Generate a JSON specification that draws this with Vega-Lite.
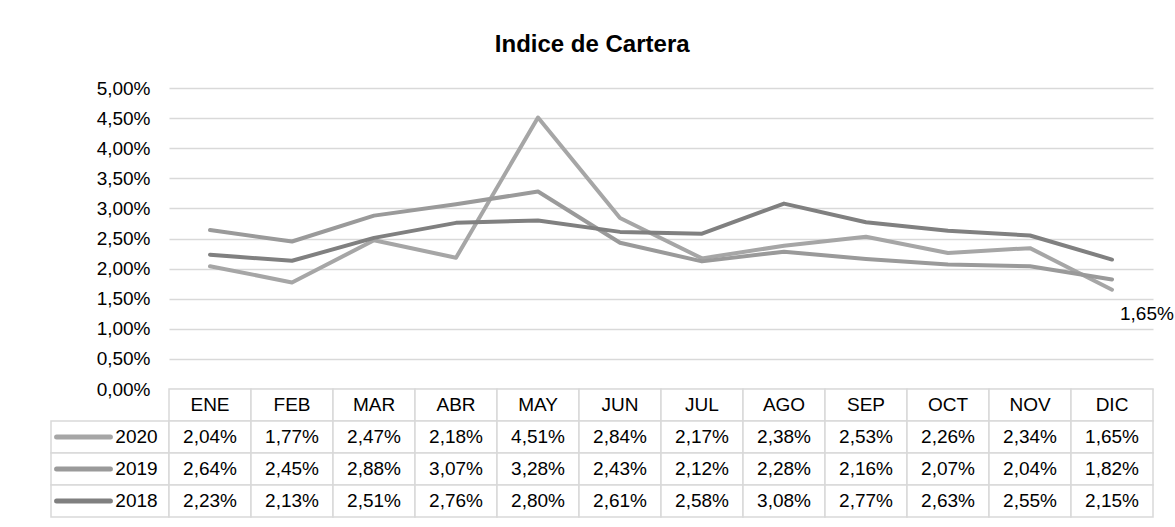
{
  "$schema": "https://vega.github.io/schema/vega-lite/v6.json",
  "padding": {"left": 46, "top": 33, "right": 3, "bottom": 3},
  "background": "white",
  "title": {"text": "Indice de Cartera", "fontSize": 24, "fontWeight": "bold", "font": "Liberation Sans", "color": "#000000", "anchor": "middle", "offset": 22, "dx": -18},
  "datasets": {
    "vals": [
      {"mes": "ENE", "serie": "2020", "valor": 0.0204},
      {"mes": "FEB", "serie": "2020", "valor": 0.0177},
      {"mes": "MAR", "serie": "2020", "valor": 0.0247},
      {"mes": "ABR", "serie": "2020", "valor": 0.0218},
      {"mes": "MAY", "serie": "2020", "valor": 0.0451},
      {"mes": "JUN", "serie": "2020", "valor": 0.0284},
      {"mes": "JUL", "serie": "2020", "valor": 0.0217},
      {"mes": "AGO", "serie": "2020", "valor": 0.0238},
      {"mes": "SEP", "serie": "2020", "valor": 0.0253},
      {"mes": "OCT", "serie": "2020", "valor": 0.0226},
      {"mes": "NOV", "serie": "2020", "valor": 0.0234},
      {"mes": "DIC", "serie": "2020", "valor": 0.0165},
      {"mes": "ENE", "serie": "2019", "valor": 0.0264},
      {"mes": "FEB", "serie": "2019", "valor": 0.0245},
      {"mes": "MAR", "serie": "2019", "valor": 0.0288},
      {"mes": "ABR", "serie": "2019", "valor": 0.0307},
      {"mes": "MAY", "serie": "2019", "valor": 0.0328},
      {"mes": "JUN", "serie": "2019", "valor": 0.0243},
      {"mes": "JUL", "serie": "2019", "valor": 0.0212},
      {"mes": "AGO", "serie": "2019", "valor": 0.0228},
      {"mes": "SEP", "serie": "2019", "valor": 0.0216},
      {"mes": "OCT", "serie": "2019", "valor": 0.0207},
      {"mes": "NOV", "serie": "2019", "valor": 0.0204},
      {"mes": "DIC", "serie": "2019", "valor": 0.0182},
      {"mes": "ENE", "serie": "2018", "valor": 0.0223},
      {"mes": "FEB", "serie": "2018", "valor": 0.0213},
      {"mes": "MAR", "serie": "2018", "valor": 0.0251},
      {"mes": "ABR", "serie": "2018", "valor": 0.0276},
      {"mes": "MAY", "serie": "2018", "valor": 0.0280},
      {"mes": "JUN", "serie": "2018", "valor": 0.0261},
      {"mes": "JUL", "serie": "2018", "valor": 0.0258},
      {"mes": "AGO", "serie": "2018", "valor": 0.0308},
      {"mes": "SEP", "serie": "2018", "valor": 0.0277},
      {"mes": "OCT", "serie": "2018", "valor": 0.0263},
      {"mes": "NOV", "serie": "2018", "valor": 0.0255},
      {"mes": "DIC", "serie": "2018", "valor": 0.0215}
    ],
    "meses": [
      {"mes": "ENE"}, {"mes": "FEB"}, {"mes": "MAR"}, {"mes": "ABR"}, {"mes": "MAY"}, {"mes": "JUN"},
      {"mes": "JUL"}, {"mes": "AGO"}, {"mes": "SEP"}, {"mes": "OCT"}, {"mes": "NOV"}, {"mes": "DIC"}
    ],
    "series": [{"serie": "2020"}, {"serie": "2019"}, {"serie": "2018"}]
  },
  "columns": 2,
  "spacing": 0,
  "bounds": "flush",
  "concat": [
    {
      "width": 118,
      "height": 301,
      "data": {"values": [{}]},
      "mark": {"type": "text", "text": ""},
      "encoding": {}
    },
    {
      "width": 984,
      "height": 301,
      "data": {"name": "vals"},
      "layer": [
        {
          "mark": {"type": "line", "strokeWidth": 4, "strokeCap": "round", "strokeJoin": "round"},
          "encoding": {
            "x": {"field": "mes", "type": "ordinal", "sort": ["ENE","FEB","MAR","ABR","MAY","JUN","JUL","AGO","SEP","OCT","NOV","DIC"], "scale": {"type": "point", "padding": 0.5, "domain": ["ENE","FEB","MAR","ABR","MAY","JUN","JUL","AGO","SEP","OCT","NOV","DIC"]}, "axis": null},
            "y": {"field": "valor", "type": "quantitative", "scale": {"domain": [0, 0.05], "nice": false},
              "axis": {"values": [0, 0.005, 0.01, 0.015, 0.02, 0.025, 0.03, 0.035, 0.04, 0.045, 0.05], "tickCount": 20, "format": ".2%", "title": null, "domain": false, "ticks": false, "grid": true, "gridColor": "#d9d9d9", "gridWidth": 1.5, "labelFont": "Liberation Sans", "labelFontSize": 19, "labelColor": "#000000", "labelPadding": 19, "labelOverlap": false, "labelBound": false}},
            "color": {"field": "serie", "type": "nominal", "scale": {"domain": ["2020", "2019", "2018"], "range": ["#a6a6a6", "#9a9a9a", "#808080"]}, "legend": null}
          }
        },
        {
          "transform": [{"filter": "datum.serie === '2020' && datum.mes === 'DIC'"}],
          "mark": {"type": "text", "align": "left", "baseline": "middle", "dx": 8, "dy": 24, "font": "Liberation Sans", "fontSize": 19, "color": "#000000"},
          "encoding": {
            "x": {"field": "mes", "type": "ordinal", "sort": ["ENE","FEB","MAR","ABR","MAY","JUN","JUL","AGO","SEP","OCT","NOV","DIC"]},
            "y": {"field": "valor", "type": "quantitative"},
            "text": {"field": "valor", "type": "quantitative", "format": ".2%"}
          }
        }
      ]
    },
    {
      "width": 118,
      "height": 128,
      "data": {"name": "series"},
      "layer": [
        {
          "mark": {"type": "rect", "fill": "white", "stroke": "#d9d9d9", "strokeWidth": 1.5},
          "encoding": {
            "y": {"field": "serie", "type": "nominal", "scale": {"domain": [" ", "2020", "2019", "2018"], "paddingInner": 0, "paddingOuter": 0}, "axis": null}
          }
        },
        {
          "mark": {"type": "point", "shape": "M-1,0L1,0", "size": 2900, "strokeWidth": 5, "strokeCap": "round", "filled": false, "opacity": 1},
          "encoding": {
            "x": {"datum": "sw", "type": "nominal", "scale": {"type": "point", "domain": ["sw", "lab"], "padding": 0.613}, "axis": null},
            "y": {"field": "serie", "type": "nominal"},
            "color": {"field": "serie", "type": "nominal", "scale": {"domain": ["2020", "2019", "2018"], "range": ["#a6a6a6", "#9a9a9a", "#808080"]}, "legend": null}
          }
        },
        {
          "mark": {"type": "text", "align": "center", "baseline": "middle", "font": "Liberation Sans", "fontSize": 19, "color": "#000000"},
          "encoding": {
            "x": {"datum": "lab", "type": "nominal"},
            "y": {"field": "serie", "type": "nominal"},
            "text": {"field": "serie"}
          }
        }
      ]
    },
    {
      "width": 984,
      "height": 128,
      "layer": [
        {
          "data": {"name": "meses"},
          "mark": {"type": "rect", "fill": "white", "stroke": "#d9d9d9", "strokeWidth": 1.5},
          "encoding": {
            "x": {"field": "mes", "type": "nominal", "scale": {"domain": ["ENE","FEB","MAR","ABR","MAY","JUN","JUL","AGO","SEP","OCT","NOV","DIC"], "paddingInner": 0, "paddingOuter": 0}, "axis": null},
            "y": {"datum": " ", "type": "nominal", "scale": {"domain": [" ", "2020", "2019", "2018"], "paddingInner": 0, "paddingOuter": 0}, "axis": null}
          }
        },
        {
          "data": {"name": "meses"},
          "mark": {"type": "text", "align": "center", "baseline": "middle", "font": "Liberation Sans", "fontSize": 19, "color": "#000000"},
          "encoding": {
            "x": {"field": "mes", "type": "nominal"},
            "y": {"datum": " ", "type": "nominal"},
            "text": {"field": "mes"}
          }
        },
        {
          "data": {"name": "vals"},
          "mark": {"type": "rect", "fill": "white", "stroke": "#d9d9d9", "strokeWidth": 1.5},
          "encoding": {
            "x": {"field": "mes", "type": "nominal"},
            "y": {"field": "serie", "type": "nominal"}
          }
        },
        {
          "data": {"name": "vals"},
          "mark": {"type": "text", "align": "center", "baseline": "middle", "font": "Liberation Sans", "fontSize": 19, "color": "#000000"},
          "encoding": {
            "x": {"field": "mes", "type": "nominal"},
            "y": {"field": "serie", "type": "nominal"},
            "text": {"field": "valor", "type": "quantitative", "format": ".2%"}
          }
        }
      ]
    }
  ],
  "config": {
    "view": {"stroke": null},
    "font": "Liberation Sans",
    "locale": {"number": {"decimal": ",", "thousands": ".", "grouping": [3], "currency": ["", " €"]}}
  }
}
